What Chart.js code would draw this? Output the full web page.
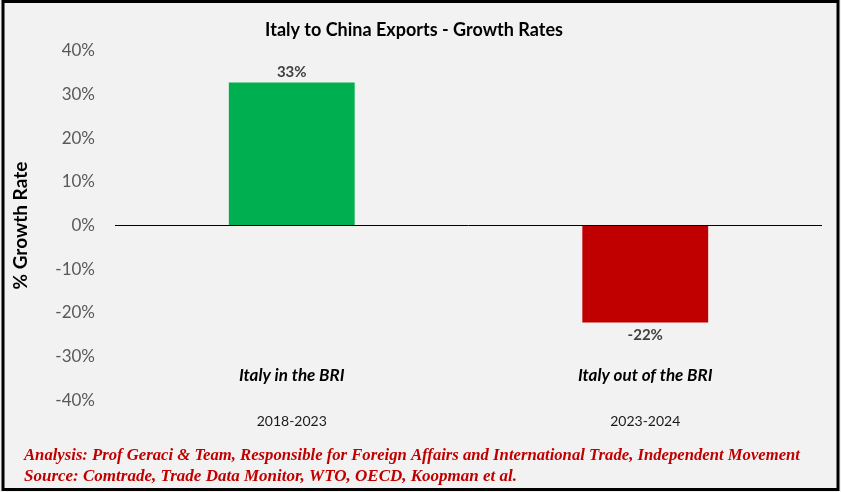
<!DOCTYPE html>
<html lang="en">

<head>
  <meta charset="UTF-8" />
  <title>Italy to China Exports - Growth Rates</title>
  <script src="https://cdn.jsdelivr.net/npm/chart.js"></script>
  <style>
    html,
    body {
      margin: 0;
      padding: 0;
      background: #f2f2f2;
    }

    .wrap {
      position: relative;
      width: 841px;
      height: 492px;
    }
  </style>
</head>

<body>
  <div class="wrap">
    <canvas id="growthChart" width="841" height="492"></canvas>
  </div>

  <script>
    // chart data
    const periods = ['2018-2023', '2023-2024'];
    const phases = ['Italy in the BRI', 'Italy out of the BRI'];
    const growth = [32.8, -22.2];
    const barColors = ['#00b050', '#c00000'];
    const footerLines = [
      'Analysis: Prof Geraci & Team, Responsible for Foreign Affairs and International Trade, Independent Movement',
      'Source: Comtrade, Trade Data Monitor, WTO, OECD, Koopman et al.'
    ];

    const FONT = 'Lato, "Open Sans", sans-serif';

    // background + frame
    const frame = {
      id: 'frame',
      beforeDraw(chart) {
        const c = chart.ctx;
        c.save();
        c.fillStyle = '#f2f2f2';
        c.fillRect(0, 0, chart.width, chart.height);
        c.restore();
      },
      afterDraw(chart) {
        const c = chart.ctx;
        c.save();
        c.strokeStyle = '#000';
        c.lineWidth = 3;
        c.strokeRect(3, 1.5, chart.width - 6, chart.height - 4);
        c.restore();
      }
    };

    // value labels + phase labels + footer
    const labels = {
      id: 'labels',
      afterDatasetsDraw(chart) {
        const c = chart.ctx;
        const meta = chart.getDatasetMeta(0);
        const x = chart.scales.x;
        c.save();
        c.textAlign = 'center';
        c.textBaseline = 'middle';
        c.fillStyle = '#404040';
        c.font = 'bold 15px ' + FONT;
        meta.data.forEach((bar, i) => {
          const v = growth[i];
          const y = v >= 0 ? bar.y - 10 : bar.y + 13;
          c.fillText(Math.round(v) + '%', bar.x, y);
        });

        c.fillStyle = '#000';
        c.font = 'italic bold 17px ' + FONT;
        phases.forEach((p, i) => {
          c.fillText(p, x.getPixelForValue(i), chart.chartArea.bottom - 25);
        });

        c.textAlign = 'left';
        c.fillStyle = '#c00000';
        c.font = 'italic bold 17px "Liberation Serif", "Times New Roman", serif';
        footerLines.forEach((t, i) => {
          c.fillText(t, 24, 456 + i * 21, 776);
        });
        c.restore();
      }
    };

    const ctx = document.getElementById('growthChart').getContext('2d');
    new Chart(ctx, {
      type: 'bar',
      data: {
        labels: periods,
        datasets: [{
          data: growth,
          backgroundColor: barColors,
          borderWidth: 0,
          categoryPercentage: 1,
          barPercentage: 0.356
        }]
      },
      options: {
        responsive: false,
        animation: false,
        layout: {
          padding: { top: 0, left: 6, right: 19, bottom: 57 }
        },
        plugins: {
          legend: { display: false },
          tooltip: { enabled: false },
          title: {
            display: true,
            text: 'Italy to China Exports - Growth Rates',
            color: '#000',
            font: { family: FONT, size: 18, weight: 'bold' },
            padding: { top: 19, bottom: 10.4 }
          }
        },
        scales: {
          x: {
            grid: { display: false },
            border: { display: false },
            ticks: {
              color: '#1a1a1a',
              padding: 5,
              font: { family: FONT, size: 14 }
            }
          },
          y: {
            min: -40,
            max: 40,
            afterFit(scale) { scale.width = 109; },
            border: { display: false },
            grid: {
              drawTicks: false,
              color: (c) => c.tick && c.tick.value === 0 ? '#000' : 'rgba(0,0,0,0)',
              lineWidth: 1
            },
            ticks: {
              stepSize: 10,
              padding: 20,
              color: '#595959',
              font: { family: FONT, size: 17 },
              callback: (v) => v + '%'
            },
            title: {
              display: true,
              text: '% Growth Rate',
              color: '#000',
              padding: { top: 3, bottom: 0 },
              font: { family: FONT, size: 19, weight: 'bold' }
            }
          }
        }
      },
      plugins: [frame, labels]
    });
  </script>
</body>

</html>
